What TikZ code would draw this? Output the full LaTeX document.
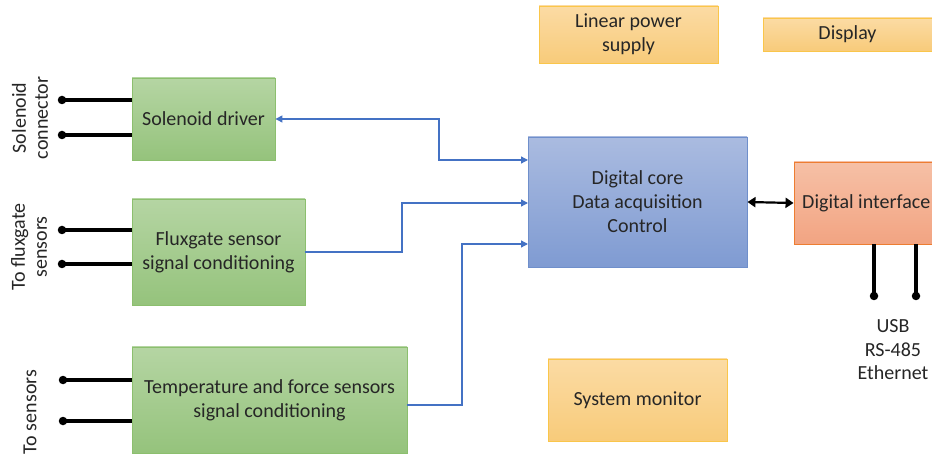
\documentclass[tikz,border=0pt]{standalone}
\usepackage{fontspec}
\setmainfont{Carlito}
\usetikzlibrary{arrows.meta}
\definecolor{gtop}{HTML}{B5D5A3}
\definecolor{gbot}{HTML}{95C37C}
\definecolor{gbor}{HTML}{8CBF6E}
\definecolor{btop}{HTML}{AABBE0}
\definecolor{bbot}{HTML}{7F9BD2}
\definecolor{bbor}{HTML}{6F8FCB}
\definecolor{otop}{HTML}{FBDBA4}
\definecolor{obot}{HTML}{F8CB7A}
\definecolor{obor}{HTML}{FAC64A}
\definecolor{rtop}{HTML}{F6C0A6}
\definecolor{rbot}{HTML}{F2A482}
\definecolor{rbor}{HTML}{ED7D31}
\definecolor{link}{HTML}{4472C4}
\tikzset{
  blk/.style={draw, line width=0.9pt, inner sep=0pt, align=center, font=\fontsize{20}{24}\selectfont, text=black!85},
  greenbox/.style={blk, draw=gbor, top color=gtop, bottom color=gbot},
  bluebox/.style={blk, draw=bbor, top color=btop, bottom color=bbot},
  orangebox/.style={blk, draw=obor, top color=otop, bottom color=obot},
  redbox/.style={blk, draw=rbor, top color=rtop, bottom color=rbot},
  pin/.style={line width=3.2pt, black},
  dot/.style={circle, fill=black, inner sep=0pt, minimum size=8.5pt},
  sig/.style={draw=link, line width=1.3pt, -{Triangle[width=7pt,length=7pt]}},
  lbl/.style={font=\fontsize{20}{24}\selectfont, text=black!85, align=center},
  bihead/.style={line width=2.2pt, {Triangle[length=8pt,width=10pt]}-{Triangle[length=8pt,width=10pt]}}
}
\begin{document}
\begin{tikzpicture}[x=1pt,y=-1pt]
\clip (0,0) rectangle (932,454);
\fill[white] (0,0) rectangle (932,454);

% boxes
\node[greenbox, minimum width=143pt, minimum height=82pt] (sol) at (203.5,119) {Solenoid driver};
\node[greenbox, minimum width=173pt, minimum height=106pt] (flux) at (218.5,252) {Fluxgate sensor\\signal conditioning};
\node[greenbox, minimum width=275pt, minimum height=106pt] (temp) at (269.5,400) {Temperature and force sensors\\signal conditioning};
\node[bluebox, minimum width=219pt, minimum height=130pt] (core) at (637.5,202) {Digital core\\Data acquisition\\Control};
\node[orangebox, minimum width=179pt, minimum height=57pt] (lps) at (628.5,34.5) {Linear power\\supply};
\node[orangebox, minimum width=169pt, minimum height=33pt] (disp) at (847.5,34.5) {Display};
\node[orangebox, minimum width=179pt, minimum height=82pt] (sysmon) at (637.5,400) {System monitor};
\node[redbox, minimum width=150pt, minimum height=82pt] (dint) at (869,203) {};
\node[lbl, anchor=west, inner sep=0pt] (dintlbl) at (802,203) {Digital interface};

% pins on left
\node[dot] (s1) at (62,100) {};
\node[dot] (s2) at (62,135) {};
\node[dot] (f1) at (62,230) {};
\node[dot] (f2) at (62,264) {};
\node[dot] (t1) at (63,380) {};
\node[dot] (t2) at (63,421) {};
\draw[pin] (s1.center) -- (sol.west |- s1);
\draw[pin] (s2.center) -- (sol.west |- s2);
\draw[pin] (f1.center) -- (flux.west |- f1);
\draw[pin] (f2.center) -- (flux.west |- f2);
\draw[pin] (t1.center) -- (temp.west |- t1);
\draw[pin] (t2.center) -- (temp.west |- t2);

% pins on digital interface
\node[dot] (d1) at (874,296) {};
\node[dot] (d2) at (916,296) {};
\draw[pin] (d1.center) -- (d1 |- dint.south);
\draw[pin] (d2.center) -- (d2 |- dint.south);

% rotated labels
\node[lbl, rotate=90, font=\fontsize{20}{22}\selectfont] (lsol) at (30,118) {Solenoid\\connector};
\node[lbl, rotate=90, font=\fontsize{20}{22}\selectfont] (lflux) at (29,247) {To fluxgate\\sensors};
\node[lbl, rotate=90] (lsens) at (30,412) {To sensors};
\node[lbl, font=\fontsize{20}{23.5}\selectfont] (lbus) at (893,350) {USB\\RS-485\\Ethernet};

% signal connectors
\coordinate (c1) at (528,160);
\coordinate (c2) at (528,203);
\coordinate (c3) at (528,244);
\draw[sig, {Triangle[width=7pt,length=7pt]}-{Triangle[width=7pt,length=7pt]}] (sol.east |- 0,119) -- (439,119) -- (439,160) -- (c1);
\draw[sig] (flux.east |- 0,252) -- (402,252) -- (402,203) -- (c2);
\draw[sig] (temp.east |- 0,405) -- (462,405) -- (462,244) -- (c3);
\draw[bihead] (core.east) -- (dint.west);
\end{tikzpicture}
\end{document}
